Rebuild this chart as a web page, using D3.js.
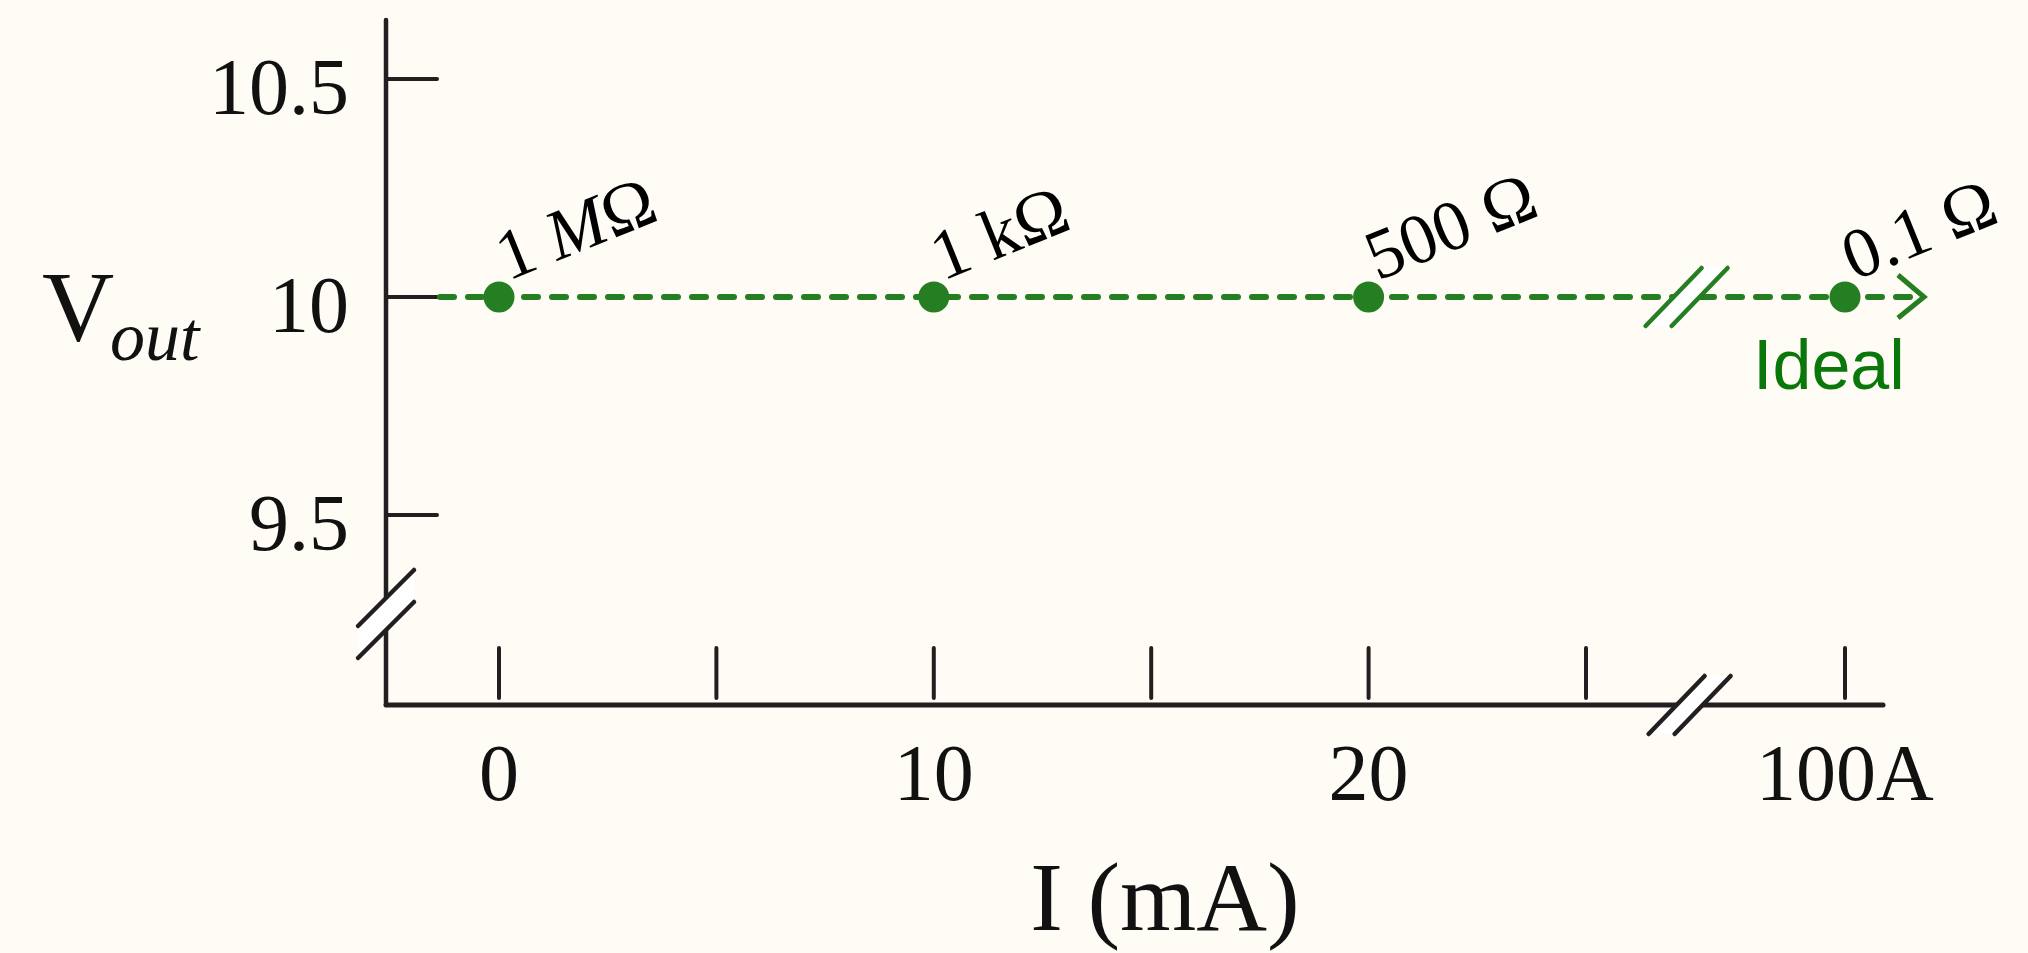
<!DOCTYPE html>
<html>
<head>
<meta charset="utf-8">
<script src="https://cdn.jsdelivr.net/npm/d3@7/dist/d3.min.js"></script>
<style>
  html, body { margin: 0; padding: 0; background: #fefcf4; }
  svg { display: block; }
</style>
</head>
<body>
<svg id="chart" width="2028" height="953"></svg>
<script>
// ---------------- data ----------------
const loadCurrentmA = [0, 10, 20, 100000];          // I (mA); 100000 mA = 100 A
const voutValues    = [10, 10, 10, 10];             // V_out (V)
const loadLabels    = ["1 MΩ", "1 kΩ", "500 Ω", "0.1 Ω"];
const yTickValues   = [9.5, 10, 10.5];
const yTickText     = ["9.5", "10", "10.5"];
const xTickValues   = [0, 5, 10, 15, 20, 25, 100000];
const xTickText     = ["0", "", "10", "", "20", "", "100A"];
const xAxisTitle    = "I (mA)";
const yAxisMain     = "V";
const yAxisSub      = "out";
const seriesName    = "Ideal";

// ---------------- layout ----------------
const W = 2028, H = 953;
const axisX = 386, axisY = 705, plotTop = 20;
const axisColor = "#231f20", green = "#267e22", textGreen = "#0a770a";
const serif = "'Liberation Serif', 'Times New Roman', serif";
const sans = "'Liberation Sans', Arial, sans-serif";

const svg = d3.select("#chart");
svg.append("rect").attr("width", W).attr("height", H).attr("fill", "#fefcf4");

// piecewise scale with a broken segment between 25 mA and 100 A
const x = d3.scaleLinear().domain([0, 25, 100000]).range([499, 1586, 1845]);
const y = d3.scaleLinear().domain([9.5, 10.5]).range([515, 79]);

const farX = x(100000);
const axisEndX = farX + 38;
const breakX = x(25) + 0.4 * (x(100000) - x(25));

// ---------------- axes ----------------
const g = svg.append("g");
g.append("line").attr("x1", axisX).attr("y1", plotTop).attr("x2", axisX).attr("y2", axisY)
  .attr("stroke", axisColor).attr("stroke-width", 4.5).attr("stroke-linecap", "round");
g.append("line").attr("x1", axisX).attr("y1", axisY).attr("x2", axisEndX).attr("y2", axisY)
  .attr("stroke", axisColor).attr("stroke-width", 5).attr("stroke-linecap", "round");

// y ticks (inward)
g.selectAll(".ytick").data(yTickValues).join("line")
  .attr("x1", axisX).attr("x2", axisX + 51)
  .attr("y1", d => y(d)).attr("y2", d => y(d))
  .attr("stroke", axisColor).attr("stroke-width", 4).attr("stroke-linecap", "round");
g.selectAll(".ylab").data(yTickValues).join("text")
  .attr("x", axisX - 37).attr("y", d => y(d) + 35)
  .attr("text-anchor", "end").attr("font-family", serif).attr("font-size", 80).attr("fill", "#111")
  .text((d, i) => yTickText[i]);

// x ticks (inward, slight gap)
g.selectAll(".xtick").data(xTickValues).join("line")
  .attr("x1", d => x(d)).attr("x2", d => x(d))
  .attr("y1", axisY - 57).attr("y2", axisY - 7)
  .attr("stroke", axisColor).attr("stroke-width", 4).attr("stroke-linecap", "round");
g.selectAll(".xlab").data(xTickValues).join("text")
  .attr("x", d => x(d)).attr("y", axisY + 95)
  .attr("text-anchor", "middle").attr("font-family", serif).attr("font-size", 80).attr("fill", "#111")
  .text((d, i) => xTickText[i]);

// ---------------- break marks ----------------
function hBreak(cx, cy, color) {
  const p1 = cx - 13, p2 = cx + 13, a = 28, b = 29;
  g.append("polygon")
    .attr("points", [[p1 - a, cy + b], [p1 + a, cy - b], [p2 + a, cy - b], [p2 - a, cy + b]].map(p => p.join(",")).join(" "))
    .attr("fill", "#ffffff");
  [p1, p2].forEach(p => g.append("line")
    .attr("x1", p - a).attr("y1", cy + b).attr("x2", p + a).attr("y2", cy - b)
    .attr("stroke", color).attr("stroke-width", 4.5).attr("stroke-linecap", "round"));
}
function vBreak(cx, cy, color) {
  const p1 = cy - 16, p2 = cy + 16, a = 28;
  g.append("polygon")
    .attr("points", [[cx - a, p1 + a], [cx + a, p1 - a], [cx + a, p2 - a], [cx - a, p2 + a]].map(p => p.join(",")).join(" "))
    .attr("fill", "#ffffff");
  [p1, p2].forEach(p => g.append("line")
    .attr("x1", cx - a).attr("y1", p + a).attr("x2", cx + a).attr("y2", p - a)
    .attr("stroke", color).attr("stroke-width", 4.5).attr("stroke-linecap", "round"));
}
vBreak(axisX, 614, axisColor);
hBreak(breakX, axisY, axisColor);

// ---------------- ideal series ----------------
const lineY = y(voutValues[0]);
const tipX = farX + 79;
g.append("line").attr("x1", axisX + 54).attr("x2", tipX - 3)
  .attr("y1", lineY).attr("y2", lineY)
  .attr("stroke", green).attr("stroke-width", 6)
  .attr("stroke-dasharray", "14,14").attr("stroke-linecap", "round");
hBreak(breakX - 3, lineY, green);
g.append("path")
  .attr("d", `M${tipX - 26},${lineY - 22} L${tipX},${lineY} L${tipX - 26},${lineY + 21}`)
  .attr("fill", "none").attr("stroke", green).attr("stroke-width", 5);

const pts = loadCurrentmA.map((c, i) => ({ c, v: voutValues[i], label: loadLabels[i] }));
g.selectAll(".dot").data(pts).join("circle")
  .attr("cx", d => x(d.c)).attr("cy", d => y(d.v)).attr("r", 15.5).attr("fill", green);

g.selectAll(".plab").data(pts).join("text")
  .attr("transform", d => `translate(${x(d.c) + 9},${y(d.v) - 16}) rotate(-22)`)
  .attr("font-family", serif).attr("font-size", 71).attr("fill", "#000")
  .each(function (d) {
    const t = d3.select(this);
    const m = d.label.match(/^(.*?)(M)(.*)$/);
    if (m) {
      t.append("tspan").text(m[1]);
      t.append("tspan").attr("font-style", "italic").text(m[2]);
      t.append("tspan").text(m[3]);
    } else {
      t.text(d.label);
    }
  });

g.append("text").attr("x", farX - 92).attr("y", lineY + 92)
  .attr("font-family", sans).attr("font-size", 70).attr("fill", textGreen)
  .text(seriesName);

// ---------------- axis titles ----------------
const yt = g.append("text").attr("font-family", serif).attr("fill", "#111");
yt.append("tspan").attr("x", 42).attr("y", 340).attr("font-size", 100).text(yAxisMain);
yt.append("tspan").attr("x", 110).attr("y", 360).attr("font-size", 70).attr("font-style", "italic").text(yAxisSub);

g.append("text").attr("x", 1165).attr("y", 930).attr("text-anchor", "middle")
  .attr("font-family", serif).attr("font-size", 98).attr("fill", "#111")
  .text(xAxisTitle);
</script>
</body>
</html>
